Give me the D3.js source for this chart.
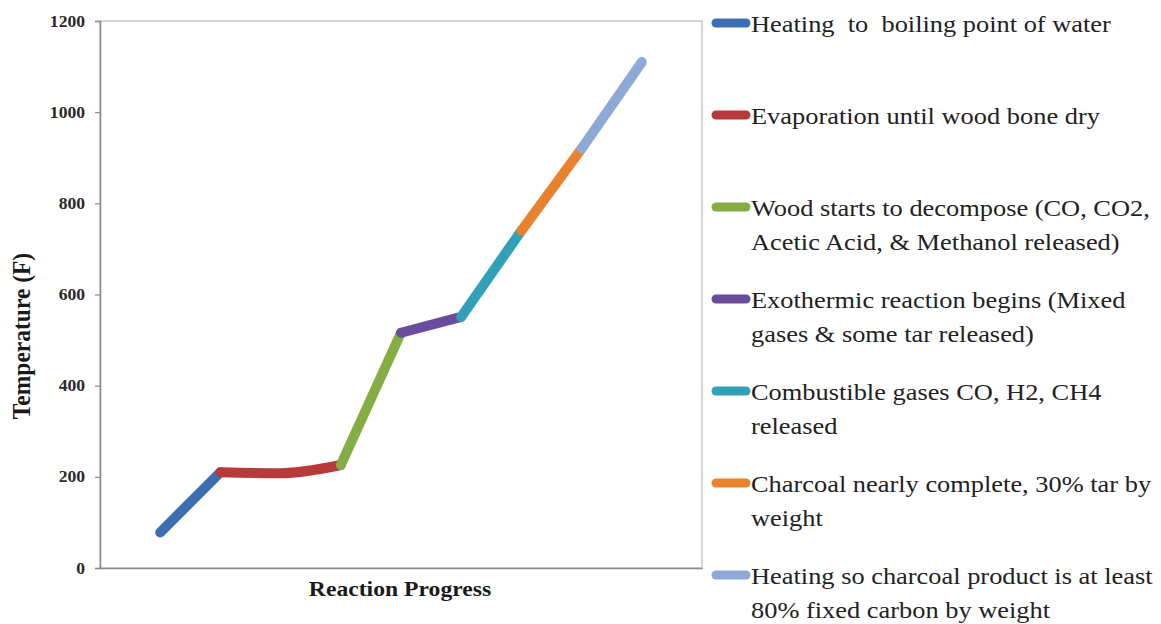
<!DOCTYPE html>
<html><head><meta charset="utf-8">
<script src="https://cdn.jsdelivr.net/npm/d3@7"></script>
<style>
html,body{margin:0;padding:0;background:#fff;}
svg{display:block;}
text{font-family:"Liberation Serif","Times New Roman",serif;}
</style></head>
<body>
<svg id="chart" width="1161" height="624"></svg>
<script>
// ---- data ----
const phaseNames = [
  ["Heating  to  boiling point of water"],
  ["Evaporation until wood bone dry"],
  ["Wood starts to decompose (CO, CO2,", "Acetic Acid, & Methanol released)"],
  ["Exothermic reaction begins (Mixed", "gases & some tar released)"],
  ["Combustible gases CO, H2, CH4", "released"],
  ["Charcoal nearly complete, 30% tar by", "weight"],
  ["Heating so charcoal product is at least", "80% fixed carbon by weight"]
];
const phaseProgress = [[1,2],[2,3,4],[4,5],[5,6],[6,7],[7,8],[8,9]];
const heatingTemps     = [78, 210];
const evaporationTemps = [210, 208, 226];
const decomposeTemps   = [226, 516];
const exothermicTemps  = [516, 551];
const combustibleTemps = [551, 740];
const charcoalTemps    = [740, 920];
const finalTemps       = [920, 1110];
const yTicks = [0, 200, 400, 600, 800, 1000, 1200];
const colors = ["#3C6EB4","#B8393A","#84AD43","#6A4C9C","#33A0BA","#E8822E","#8EA9D5"];

const seriesTemps = [heatingTemps, evaporationTemps, decomposeTemps, exothermicTemps,
                     combustibleTemps, charcoalTemps, finalTemps];
const series = seriesTemps.map((t,i)=>({
  name: phaseNames[i], color: colors[i],
  pts: t.map((v,j)=>({x: phaseProgress[i][j], y: v}))
}));

// ---- layout ----
const svg = d3.select("#chart");
const L = 100, R = 702, T = 21, B = 568;
const SX = 1.1; // horizontal stretch of the original image's text
const x = d3.scaleLinear().domain([0,10]).range([L,R]);
const y = d3.scaleLinear().domain([0,1200]).range([B,T]);

// plot frame
svg.append("rect").attr("x",L).attr("y",T).attr("width",R-L).attr("height",B-T)
  .attr("fill","#fff").attr("stroke","#c6c6c6").attr("stroke-width",1.5);

// y axis
const yAxis = svg.append("g").attr("transform",`translate(${L},0)`)
  .call(d3.axisLeft(y).tickValues(yTicks).tickSize(5).tickPadding(10).tickFormat(d3.format("d")));
yAxis.select(".domain").attr("stroke","#8a8a8a").attr("stroke-width",1.5);
yAxis.selectAll(".tick line").attr("stroke","#8a8a8a").attr("stroke-width",1.2);
yAxis.selectAll(".tick text")
  .attr("x",null).attr("dy",null)
  .attr("transform",`translate(-15,5) scale(${SX},1)`)
  .attr("font-weight","bold").attr("font-size",16).attr("fill","#2a2a2a");

// x axis line
svg.append("g").attr("transform",`translate(0,${B})`)
  .call(d3.axisBottom(x).tickValues([]).tickSizeOuter(0))
  .select(".domain").attr("stroke","#8a8a8a").attr("stroke-width",1.5);

// axis titles
svg.append("text").attr("transform",`translate(30,336) rotate(-90) scale(1,${SX})`)
  .attr("text-anchor","middle").attr("font-weight","bold").attr("font-size",23.5)
  .attr("fill","#1a1a1a").text("Temperature (F)");
svg.append("text").attr("transform",`translate(400,596) scale(${SX},1)`)
  .attr("text-anchor","middle").attr("font-weight","bold").attr("font-size",21.5)
  .attr("fill","#1a1a1a").text("Reaction Progress");

// lines
const line = d3.line().x(d=>x(d.x)).y(d=>y(d.y));
series.forEach((s,i)=>{
  svg.append("path").datum(s.pts)
    .attr("d", line.curve(s.pts.length>2 ? d3.curveMonotoneX : d3.curveLinear))
    .attr("fill","none").attr("stroke",s.color).attr("stroke-width",10)
    .attr("stroke-linecap","round").attr("stroke-linejoin","round");
});

// legend
const lg = svg.append("g");
const legendY = d3.scaleLinear().domain([0,6]).range([23,575]);
series.forEach((s,i)=>{
  const cy = legendY(i);
  lg.append("line").attr("x1",716).attr("x2",746).attr("y1",cy).attr("y2",cy)
    .attr("stroke",s.color).attr("stroke-width",9).attr("stroke-linecap","round");
  s.name.forEach((ln,k)=>{
    lg.append("text").attr("transform",`translate(751,${cy+9+k*34}) scale(${SX},1)`)
      .attr("font-size",24).attr("fill","#222").attr("xml:space","preserve")
      .style("white-space","pre").text(ln);
  });
});
</script>
</body></html>
